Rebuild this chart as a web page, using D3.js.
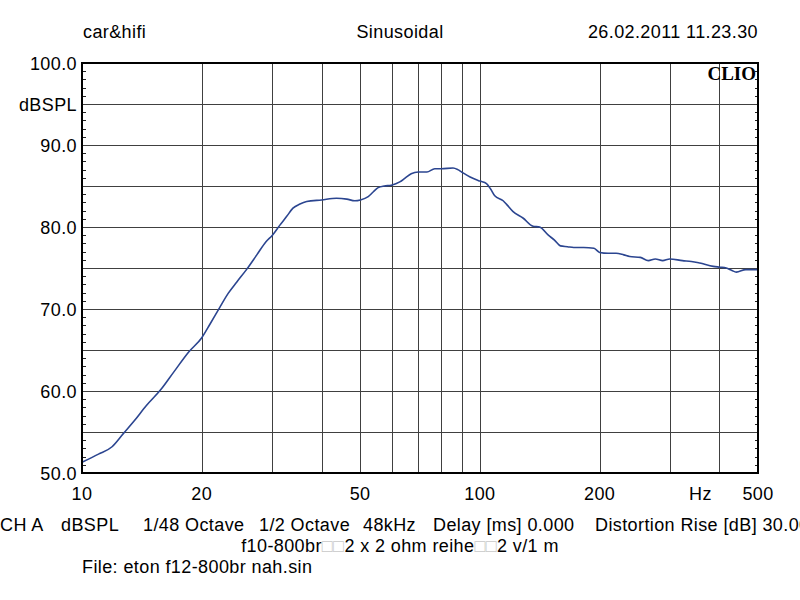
<!DOCTYPE html>
<html><head><meta charset="utf-8">
<script src="https://cdn.jsdelivr.net/npm/d3@7/dist/d3.min.js"></script>
<style>body{margin:0;background:#fff}svg{display:block}</style>
</head><body><svg id="c" width="800" height="600"></svg>
<script>
// ---- data ----
const freqs = [10,11,11.9,12.7,13.5,14.5,15.8,17,18.5,20,21,22.2,23.3,24.5,25.9,27.5,29,30.1,31.4,32.7,33.9,35.3,36.7,40,43.6,46.3,48.5,50.1,52.4,54,55.5,57.5,59.9,62.9,65,67.2,70,73.6,77,80,85.6,88,90,94.5,100,103.9,106.5,109,114.4,117,121,128.3,136,141.3,148.6,154,159.4,166,172.1,182.3,193.5,200,210,220,230,238,253,265,276,288,300,323,340,357,386,401,416,430,441,466,500];
const spl = [51.3,52.3,53.2,54.8,56.3,58.2,60.2,62.3,64.7,66.5,68.2,70.2,71.9,73.3,74.8,76.6,78.2,79.0,80.2,81.3,82.3,82.8,83.1,83.3,83.5,83.4,83.2,83.3,83.7,84.3,84.8,85.0,85.1,85.5,86.0,86.5,86.7,86.7,87.1,87.1,87.2,87.0,86.7,86.1,85.6,85.3,84.6,83.8,83.2,82.7,81.9,81.1,80.1,80.0,79.0,78.4,77.7,77.6,77.5,77.5,77.4,76.9,76.8,76.8,76.6,76.4,76.3,75.9,76.1,75.9,76.1,75.9,75.8,75.6,75.2,75.1,75.0,74.7,74.5,74.8,74.8];
const xTickValues = [10,20,50,100,200,500];
const xTickLabels = ["10","20","50","100","200","500"];
const xUnit = "Hz";
const xGridValues = [20,30,40,50,60,70,80,90,100,200,300,400];
const yLabelValues = [100,95,90,80,70,60,50];
const yLabelTexts = ["100.0","dBSPL","90.0","80.0","70.0","60.0","50.0"];
const yGridValues = [55,60,65,70,75,80,85,90,95];
const headerLeft = "car&hifi", headerCenter = "Sinusoidal", headerRight = "26.02.2011 11.23.30";
const footerItems = ["CH A","dBSPL","1/48 Octave","1/2 Octave","48kHz","Delay [ms] 0.000","Distortion Rise [dB] 30.00"];
const footerX = [0,61,143,259,363,433,595];
const footerLine2 = [["f10-800br",0],["\u25A1\u25A1",1],["2 x 2 ohm reihe",0],["\u25A1\u25A1",1],["2 v/1 m",0]];
const footerLine3 = "File: eton f12-800br nah.sin";

// ---- layout ----
const L = 82, R = 758, T = 63, B = 473;
const font = "'Liberation Sans', Arial, sans-serif";
const fs = 18, ls = "0.4px";
const svg = d3.select("#c");
const x = d3.scaleLog().domain([10,500]).range([L,R]);
const y = d3.scaleLinear().domain([50,100]).range([B,T]);
const grid = "#404040";

function txt(sel){ return sel.attr("font-family",font).attr("font-size",fs).attr("letter-spacing",ls).attr("fill","#000"); }

// grid
svg.append("g").selectAll("line").data(xGridValues).join("line")
  .attr("x1",d=>Math.round(x(d))+0.5).attr("x2",d=>Math.round(x(d))+0.5)
  .attr("y1",T).attr("y2",B).attr("stroke",grid).attr("stroke-width",1);
svg.append("g").selectAll("line").data(yGridValues).join("line")
  .attr("y1",d=>Math.round(y(d))+0.5).attr("y2",d=>Math.round(y(d))+0.5)
  .attr("x1",L).attr("x2",R).attr("stroke",grid).attr("stroke-width",1);

// minor ticks (1 dB) on left and right
const minor = d3.range(51,100).filter(v=>v%5!==0);
svg.append("g").selectAll("line").data(minor).join("line")
  .attr("y1",d=>Math.round(y(d))+0.5).attr("y2",d=>Math.round(y(d))+0.5)
  .attr("x1",L).attr("x2",L+4).attr("stroke","#222");
svg.append("g").selectAll("line").data(minor).join("line")
  .attr("y1",d=>Math.round(y(d))+0.5).attr("y2",d=>Math.round(y(d))+0.5)
  .attr("x1",R-3).attr("x2",R).attr("stroke","#222");

// curve
const line = d3.line().x((d,i)=>x(freqs[i])).y(d=>y(d)).curve(d3.curveMonotoneX);
svg.append("path").datum(spl).attr("d",line).attr("fill","none")
  .attr("stroke","#2b4590").attr("stroke-width",1.6).attr("stroke-linejoin","round");

// frame
svg.append("rect").attr("x",L).attr("y",T).attr("width",R-L).attr("height",B-T)
  .attr("fill","none").attr("stroke","#000").attr("stroke-width",2);

// CLIO logo
svg.append("text").attr("x",R-2).attr("y",T+17).attr("text-anchor","end")
  .attr("font-family","'Liberation Serif','Times New Roman',serif").attr("font-weight","bold")
  .attr("font-size",19).text("CLIO");

// y labels
txt(svg.append("g").selectAll("text").data(yLabelValues).join("text"))
  .attr("x",L-5).attr("y",d=>y(d)+7).attr("text-anchor","end")
  .text((d,i)=>yLabelTexts[i]);

// x labels
txt(svg.append("g").selectAll("text").data(xTickValues).join("text"))
  .attr("x",d=>x(d)).attr("y",B+27).attr("text-anchor","middle")
  .text((d,i)=>xTickLabels[i]);
txt(svg.append("text")).attr("x",x(400)-19).attr("y",B+27).attr("text-anchor","middle").text(xUnit);

// header
const hy = 38;
txt(svg.append("text")).attr("x",83).attr("y",hy).text(headerLeft);
txt(svg.append("text")).attr("x",400).attr("y",hy).attr("text-anchor","middle").text(headerCenter);
txt(svg.append("text")).attr("x",R).attr("y",hy).attr("text-anchor","end").text(headerRight);

// footer
txt(svg.append("g").selectAll("text").data(footerItems).join("text"))
  .attr("x",(d,i)=>footerX[i]).attr("y",531).text(d=>d);
const t2 = txt(svg.append("text")).attr("x",400).attr("y",552).attr("text-anchor","middle");
footerLine2.forEach(([s,g])=>t2.append("tspan").attr("fill",g?"#c8c8c8":"#000").text(s));
txt(svg.append("text")).attr("x",82).attr("y",573).text(footerLine3);
</script></body></html>
